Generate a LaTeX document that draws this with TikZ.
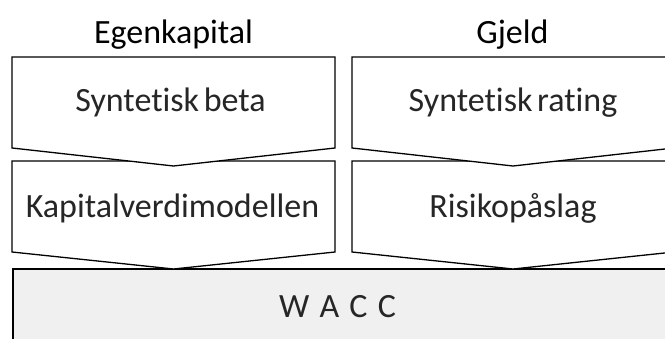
\documentclass[tikz,border=0pt]{standalone}
\usepackage{fontspec}
\setmainfont{Carlito}[Ligatures={NoCommon},WordSpace=0.6]
\begin{document}
\begin{tikzpicture}[x=1pt,y=-1pt,
  chev/.style={draw=black,line width=1.3pt,fill=white,line join=miter},
  lbl/.style={anchor=base,inner sep=0pt,font=\fontsize{34}{40}\selectfont,text=black!85},
  hdr/.style={anchor=base,inner sep=0pt,font=\fontsize{34}{40}\selectfont},
  wacc/.style={draw=black,line width=2.6pt,fill=black!6}]
\useasboundingbox (0,0) rectangle (665,339);
\clip (0,0) rectangle (665,339);
% WACC box
\draw[wacc] (13,269) rectangle (700,380);
% lower chevrons
\draw[chev] (12,161) -- (335,161) -- (335,252) -- (173.5,269) -- (12,252) -- cycle;
\draw[chev] (352,161) -- (674,161) -- (674,252) -- (513,269) -- (352,252) -- cycle;
% upper chevrons
\draw[chev] (12,57) -- (335,57) -- (335,148) -- (173.5,166) -- (12,148) -- cycle;
\draw[chev] (352,57) -- (674,57) -- (674,148) -- (513,166) -- (352,148) -- cycle;
% texts
\node[hdr] (egen) at (173.5,44) {Egenkapital};
\node[hdr] (gjeld) at (512.5,44) {Gjeld};
\node[lbl] (beta) at (170.5,112) {Syntetisk beta};
\node[lbl] (rating) at (513,112) {Syntetisk rating};
\node[lbl] (kvm) at (172.5,218) {Kapitalverdimodellen};
\node[lbl] (risk) at (513,218) {Risikopåslag};
\node[lbl] (w) at (337.5,318) {W\hspace{0.3em}A\hspace{0.3em}C\hspace{0.3em}C};
\end{tikzpicture}
\end{document}
